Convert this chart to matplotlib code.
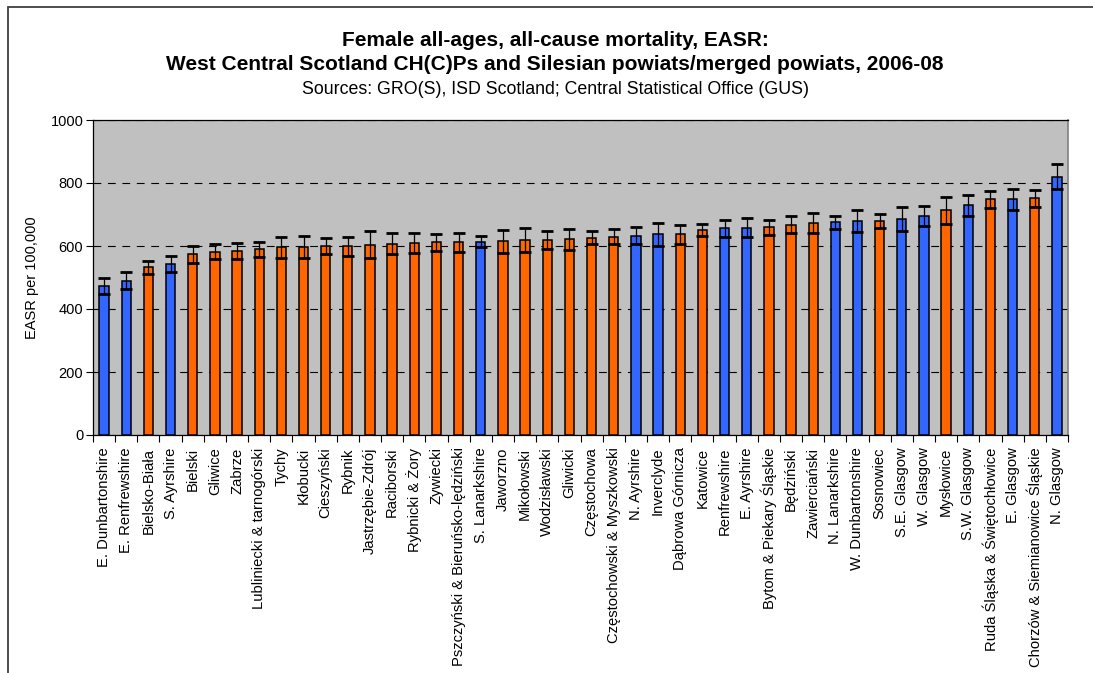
import matplotlib
matplotlib.use('Agg')
import matplotlib.pyplot as plt
import numpy as np
from matplotlib.patches import Rectangle

plt.rcParams['font.family'] = ['Liberation Sans', 'DejaVu Sans']

# areas, sorted by rate
areas = ['E. Dunbartonshire', 'E. Renfrewshire', 'Bielsko-Biała', 'S. Ayrshire', 'Bielski',
         'Gliwice', 'Zabrze', 'Lubliniecki & tarnogórski', 'Tychy', 'Kłobucki', 'Cieszyński',
         'Rybnik', 'Jastrzębie-Zdrój', 'Raciborski', 'Rybnicki & Żory', 'Zywiecki',
         'Pszczyński & Bieruńsko-lędziński', 'S. Lanarkshire', 'Jaworzno', 'Mikołowski',
         'Wodzisławski', 'Gliwicki', 'Częstochowa', 'Częstochowski & Myszkowski', 'N. Ayrshire',
         'Inverclyde', 'Dąbrowa Górnicza', 'Katowice', 'Renfrewshire', 'E. Ayrshire',
         'Bytom & Piekary Śląskie', 'Będziński', 'Zawierciański', 'N. Lanarkshire',
         'W. Dunbartonshire', 'Sosnowiec', 'S.E. Glasgow', 'W. Glasgow', 'Mysłowice',
         'S.W. Glasgow', 'Ruda Śląska & Świętochłowice', 'E. Glasgow',
         'Chorzów & Siemianowice Śląskie', 'N. Glasgow']

# S = West Central Scotland, P = Silesia
country = ['S', 'S', 'P', 'S', 'P', 'P', 'P', 'P', 'P', 'P', 'P', 'P', 'P', 'P', 'P', 'P', 'P',
           'S', 'P', 'P', 'P', 'P', 'P', 'P', 'S', 'S', 'P', 'P', 'S', 'S', 'P', 'P', 'P', 'S',
           'S', 'P', 'S', 'S', 'P', 'S', 'P', 'S', 'P', 'S']

easr = [473, 489, 532, 543, 575, 582, 585, 589, 596, 597, 600, 600, 603, 607, 611, 613, 613,
        614, 615, 620, 620, 622, 626, 630, 633, 637, 637, 651, 656, 656, 660, 668, 674, 675,
        678, 679, 686, 695, 713, 729, 748, 748, 751, 820]
ci_low = [447, 462, 511, 516, 547, 558, 560, 566, 562, 562, 575, 569, 562, 575, 577, 584, 582,
          596, 578, 582, 592, 587, 605, 605, 605, 601, 606, 632, 630, 627, 636, 640, 642, 655,
          643, 656, 649, 662, 669, 696, 722, 714, 724, 781]
ci_high = [497, 519, 553, 568, 601, 605, 611, 612, 628, 632, 624, 629, 648, 640, 642, 639, 642,
           632, 651, 657, 649, 655, 648, 653, 659, 672, 666, 670, 683, 688, 683, 696, 705, 694,
           714, 703, 723, 727, 757, 763, 776, 781, 778, 859]

colours = {'S': '#3366FF', 'P': '#FF6600'}

fig = plt.figure(figsize=(10.93, 6.73), dpi=100)
fig.patch.set_facecolor('white')

# outer chart frame (runs off the right and bottom of the picture)
fig.patches.append(Rectangle((8 / 1093, -0.1), 1.2, 1.1 - 7 / 673, transform=fig.transFigure,
                             fill=False, edgecolor='#404040', linewidth=1.3, zorder=0))

ax = fig.add_axes([93 / 1093, 1 - 435 / 673, 975 / 1093, 315 / 673])
ax.set_facecolor('#C0C0C0')

x = np.arange(len(areas))
vals = np.array(easr)
yerr = [vals - np.array(ci_low), np.array(ci_high) - vals]

ax.bar(x, vals, width=0.42, color=[colours[c] for c in country], edgecolor='black',
       linewidth=1.1, zorder=3)
ax.errorbar(x, vals, yerr=yerr, fmt='none', ecolor='black', elinewidth=0.9,
            capsize=4.3, capthick=2.0, zorder=4)

ax.set_ylim(0, 1000)
ax.set_xlim(-0.5, len(areas) - 0.5)
ax.set_yticks([0, 200, 400, 600, 800, 1000])
ax.yaxis.grid(True, color='black', linestyle=(0, (7, 6)), linewidth=0.8)
ax.set_axisbelow(True)
ax.tick_params(axis='y', labelsize=10.5, length=5, width=0.8, pad=2)

ax.set_xticks(x)
ax.set_xticklabels(areas, rotation=90, fontsize=10.6)
ax.tick_params(axis='x', length=0, pad=9)
ax.set_xticks(np.arange(-0.5, len(areas)), minor=True)
ax.tick_params(axis='x', which='minor', length=5, width=0.8)

for side in ['left', 'bottom', 'top']:
    ax.spines[side].set_color('black')
    ax.spines[side].set_linewidth(0.9)
ax.spines['right'].set_color('#808080')
ax.spines['right'].set_linewidth(1.2)

ax.set_ylabel('EASR per 100,000', fontsize=10.5, labelpad=8)

# titles centred on the chart frame, not on the picture
cx = 555 / 1093
fig.text(cx, 1 - 40 / 673, 'Female all-ages, all-cause mortality, EASR:', ha='center',
         va='center', fontsize=15, fontweight='bold')
fig.text(cx, 1 - 65 / 673,
         'West Central Scotland CH(C)Ps and Silesian powiats/merged powiats, 2006-08',
         ha='center', va='center', fontsize=15, fontweight='bold')
fig.text(cx, 1 - 89 / 673, 'Sources: GRO(S), ISD Scotland; Central Statistical Office (GUS)',
         ha='center', va='center', fontsize=12.8)

fig.savefig('out.png', dpi=100, facecolor='white')
